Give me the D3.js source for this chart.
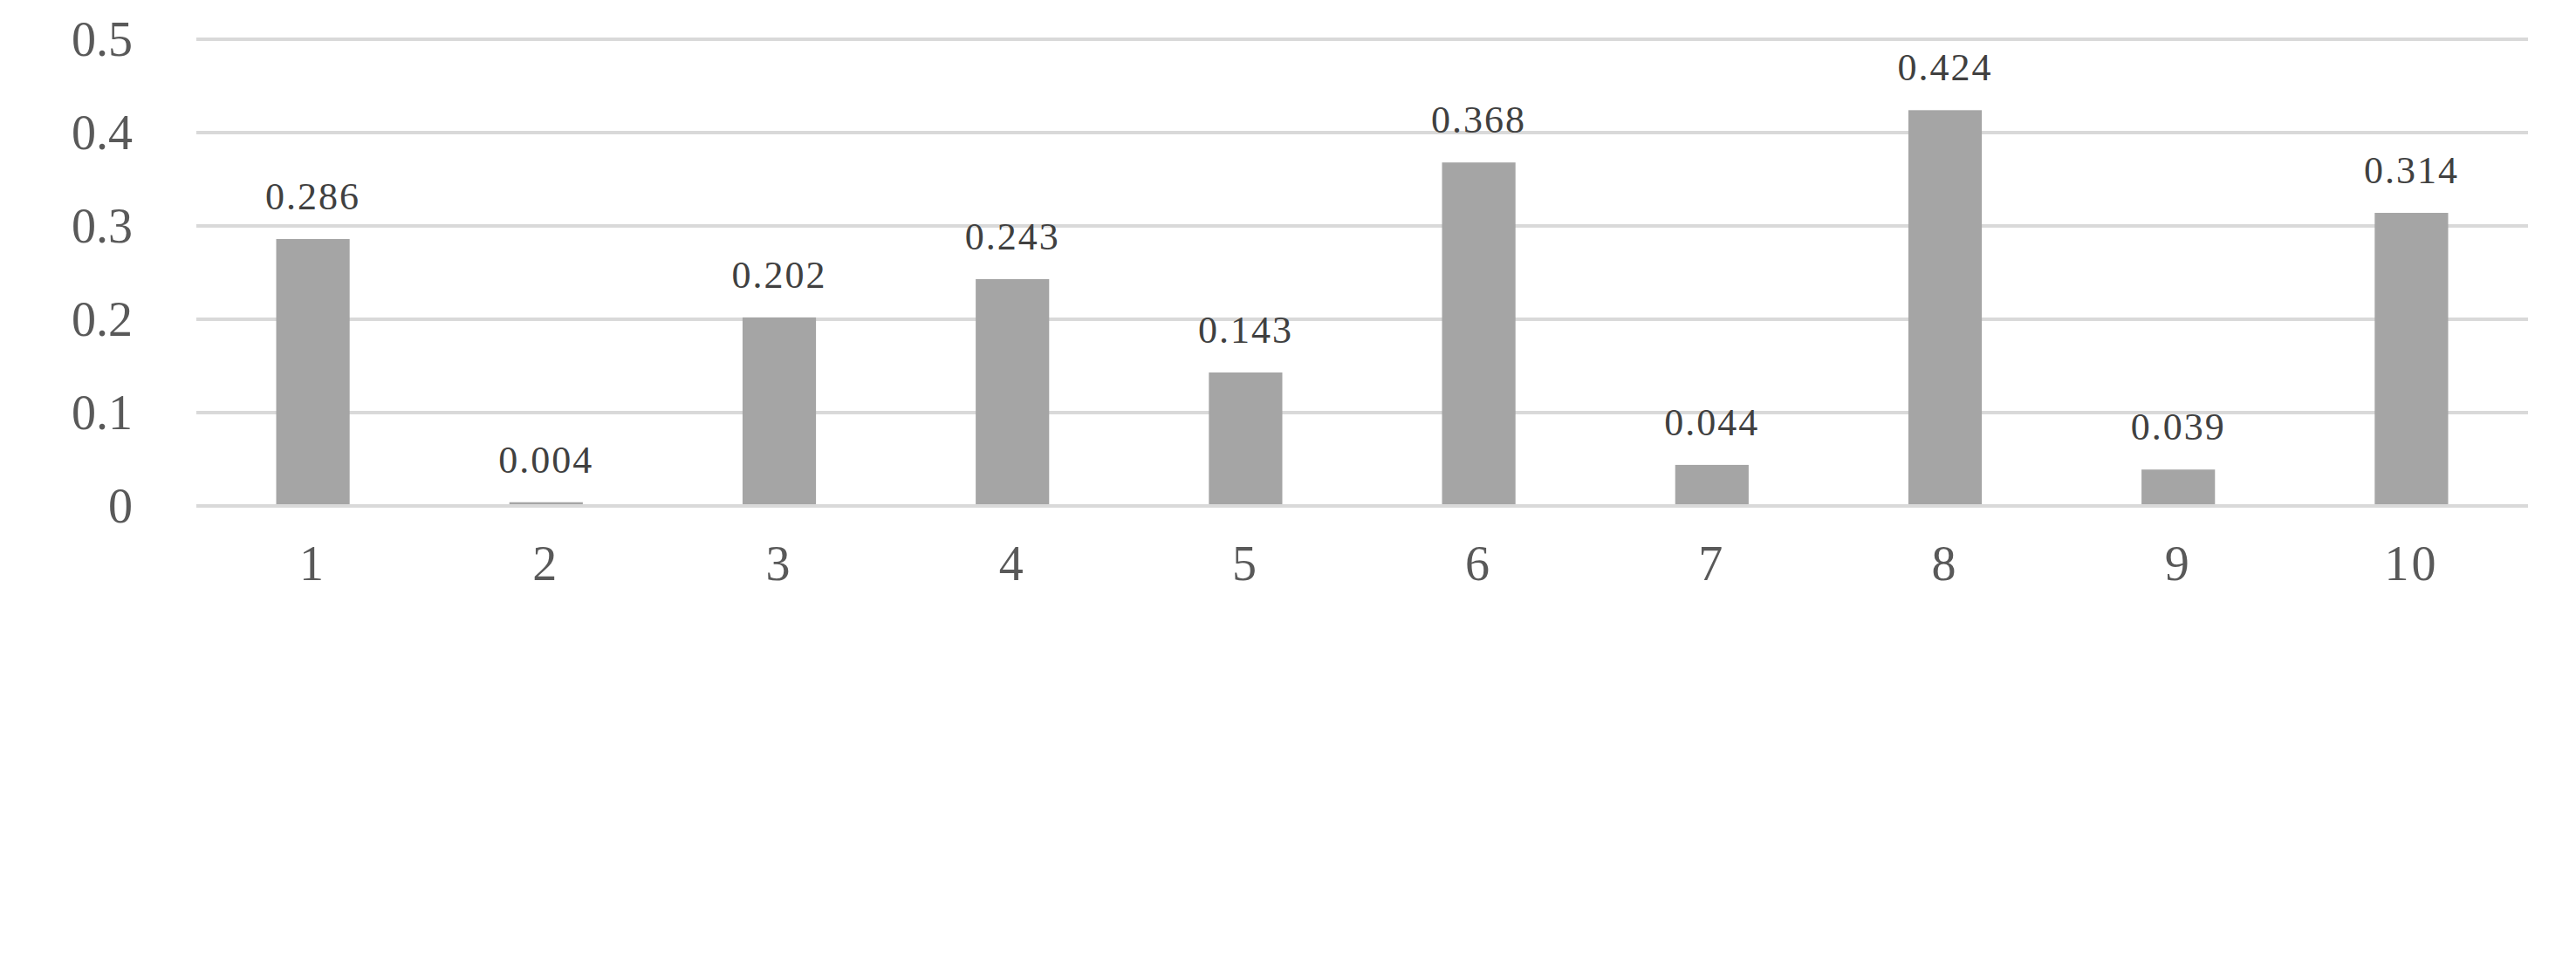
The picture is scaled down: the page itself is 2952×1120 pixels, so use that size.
<!DOCTYPE html>
<html>
<head>
<meta charset="utf-8">
<script src="https://cdn.jsdelivr.net/npm/d3@7"></script>
<style>
  body { margin: 0; background: #fff; }
  svg { display: block; }
</style>
</head>
<body>
<script>
const categories = ['1', '2', '3', '4', '5', '6', '7', '8', '9', '10'];
const values = [0.286, 0.004, 0.202, 0.243, 0.143, 0.368, 0.044, 0.424, 0.039, 0.314];
const yTicks = [0, 0.1, 0.2, 0.3, 0.4, 0.5];

const w = 2952, h = 1120;
const plotLeft = 225, plotRight = 2897, plotTop = 45, plotBottom = 580;

const svg = d3.select('body').append('svg')
	.attr('width', w)
	.attr('height', h)
	.style('font-family', '"Liberation Serif", "Times New Roman", serif');

const x = d3.scaleBand().domain(categories).range([plotLeft, plotRight]).paddingInner(0.685).paddingOuter(0.3425);
const y = d3.scaleLinear().domain([0, 0.5]).range([plotBottom, plotTop]);

// gridlines
svg.selectAll('line.grid')
	.data(yTicks)
	.enter().append('line')
	.attr('x1', plotLeft).attr('x2', plotRight)
	.attr('y1', d => y(d)).attr('y2', d => y(d))
	.attr('stroke', '#d9d9d9')
	.attr('stroke-width', 4);

// y labels
svg.selectAll('text.ytick')
	.data(yTicks)
	.enter().append('text')
	.attr('x', 152)
	.attr('y', d => y(d) + 19)
	.attr('text-anchor', 'end')
	.attr('font-size', 56)
	.attr('fill', '#595959')
	.text(d => d === 0 ? '0' : d.toFixed(1));

// bars
svg.selectAll('rect')
	.data(values)
	.enter().append('rect')
	.attr('x', (d, i) => x(categories[i]))
	.attr('width', x.bandwidth())
	.attr('y', d => y(d))
	.attr('height', d => y(0) - 2 - y(d))
	.attr('fill', '#a5a5a5');

// value labels
svg.selectAll('text.val')
	.data(values)
	.enter().append('text')
	.attr('x', (d, i) => x(categories[i]) + x.bandwidth() / 2)
	.attr('y', d => y(d) - 34)
	.attr('text-anchor', 'middle')
	.attr('font-size', 44)
	.attr('letter-spacing', 2)
	.attr('fill', '#404040')
	.text(d => d.toFixed(3));

// x labels
svg.selectAll('text.xtick')
	.data(categories)
	.enter().append('text')
	.attr('x', d => x(d) + x.bandwidth() / 2)
	.attr('y', 665)
	.attr('text-anchor', 'middle')
	.attr('font-size', 56)
	.attr('letter-spacing', 3)
	.attr('fill', '#595959')
	.text(d => d);
</script>
</body>
</html>
